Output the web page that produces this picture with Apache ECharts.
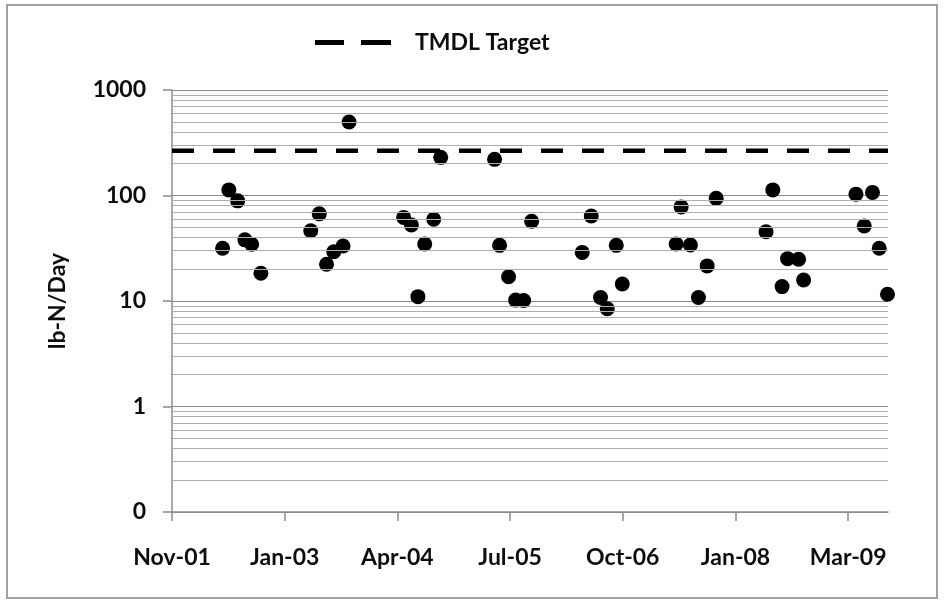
<!DOCTYPE html>
<html>
<head>
<meta charset="utf-8">
<script src="https://cdn.jsdelivr.net/npm/echarts@6/dist/echarts.min.js"></script>
<style>
html,body{margin:0;padding:0;background:#fff;}
#chart{width:945px;height:601px;}
</style>
</head>
<body>
<div id="chart"></div>
<script>
// ---- data ----
const axisStartDate = '2001-11-05';
const axisEndDate = '2009-09-03';
const tickIntervalDays = 450;
const xTickLabels = ['Nov-01', 'Jan-03', 'Apr-04', 'Jul-05', 'Oct-06', 'Jan-08', 'Mar-09'];
const sampleDates = [
  '2002-05-26', '2002-06-20', '2002-07-25', '2002-08-23', '2002-09-19', '2002-10-26',
  '2003-05-13', '2003-06-16', '2003-07-15', '2003-08-13', '2003-09-19', '2003-10-13',
  '2004-05-18', '2004-06-18', '2004-07-14', '2004-08-10', '2004-09-15', '2004-10-13',
  '2005-05-16', '2005-06-05', '2005-07-11', '2005-08-08', '2005-09-09', '2005-10-11',
  '2006-05-01', '2006-06-06', '2006-07-13', '2006-08-09', '2006-09-14', '2006-10-08',
  '2007-05-11', '2007-05-31', '2007-07-07', '2007-08-08', '2007-09-12', '2007-10-18',
  '2008-05-04', '2008-05-31', '2008-07-07', '2008-07-29', '2008-09-11', '2008-10-01',
  '2009-04-28', '2009-05-31', '2009-07-03', '2009-07-30', '2009-09-01'
];
const loads = [
  31.6, 113, 89, 38, 34.5, 18.3,
  46.4, 67, 22.3, 29.3, 33.2, 497,
  62, 52.5, 11.0, 34.7, 59.5, 230,
  220, 33.7, 17.0, 10.2, 10.1, 57,
  28.9, 64, 10.8, 8.45, 33.7, 14.5,
  34.7, 78, 34, 10.8, 21.5, 94,
  45.4, 113, 13.7, 25.2, 24.9, 15.8,
  103, 51.4, 107, 31.6, 11.6
];
const tmdlTarget = 265;
const yMin = 0.1;
const yMax = 1000;
const yTickLabels = ['0', '1', '10', '100', '1000'];
const yMajorTicks = [0.1, 1, 10, 100, 1000];
const yMinorGrid = [
  0.2, 0.3, 0.4, 0.5, 0.6, 0.7, 0.8, 0.9,
  2, 3, 4, 5, 6, 7, 8, 9,
  20, 30, 40, 50, 60, 70, 80, 90,
  200, 300, 400, 500, 600, 700, 800, 900
];

// ---- helpers ----
const DAY = 86400000;
function dayOffset(s) { return (Date.parse(s) - Date.parse(axisStartDate)) / DAY; }
const xMax = dayOffset(axisEndDate);
const xTicks = xTickLabels.map((_, i) => i * tickIntervalDays);
const points = sampleDates.map((d, i) => [dayOffset(d), loads[i]]);

const FONT = 'Lato';
const TXT = '#0d0d0d';
const FS = 23;

const chart = echarts.init(document.getElementById('chart'), null, { renderer: 'canvas' });
chart.setOption({
  animation: false,
  backgroundColor: '#fff',
  graphic: [{
    type: 'rect',
    shape: { x: 7, y: 5, width: 930, height: 593 },
    style: { fill: 'none', stroke: '#a0a0a0', lineWidth: 2 },
    silent: true
  }],
  grid: { left: 172, right: 57, top: 90, bottom: 89 },
  legend: {
    left: 315, top: 31, padding: 0,
    itemWidth: 76, itemHeight: 5,
    data: [{ name: 'TMDL Target', icon: 'path://M0,0H29V5H0Z M46,0H76V5H46Z' }],
    textStyle: { fontFamily: FONT, fontWeight: 'bold', fontSize: FS, color: TXT, padding: [0, 0, 0, 19] },
    selectedMode: false
  },
  xAxis: {
    type: 'value',
    min: 0, max: xMax, interval: tickIntervalDays,
    axisLine: { show: true, lineStyle: { color: '#8c8c8c', width: 1.5 } },
    axisTick: { show: true, length: 9, inside: false, customValues: xTicks, lineStyle: { color: '#8c8c8c', width: 1.5 } },
    axisLabel: {
      customValues: xTicks,
      margin: 34,
      fontFamily: FONT, fontWeight: 'bold', fontSize: FS, color: TXT,
      formatter: v => xTickLabels[Math.round(v / tickIntervalDays)] || ''
    },
    splitLine: { show: false }
  },
  yAxis: {
    type: 'log', logBase: 10,
    min: yMin, max: yMax,
    name: 'lb-N/Day', nameLocation: 'middle', nameGap: 103, nameRotate: 90,
    nameTextStyle: { fontFamily: FONT, fontWeight: 'bold', fontSize: FS, color: TXT },
    axisLine: { show: true, lineStyle: { color: '#8c8c8c', width: 1.5 } },
    axisTick: { show: true, length: 9, inside: false, lineStyle: { color: '#8c8c8c', width: 1.5 } },
    axisLabel: {
      margin: 26,
      fontFamily: FONT, fontWeight: 'bold', fontSize: FS, color: TXT,
      formatter: v => {
        let best = 0;
        yMajorTicks.forEach((t, i) => { if (Math.abs(Math.log10(v) - Math.log10(t)) < Math.abs(Math.log10(v) - Math.log10(yMajorTicks[best]))) best = i; });
        return yTickLabels[best];
      }
    },
    splitLine: { show: true, lineStyle: { color: '#8a8a8a', width: 1 } },
    minorTick: { show: false },
    minorSplitLine: { show: false }
  },
  series: [
    {
      name: 'minor grid',
      type: 'line',
      data: [],
      silent: true,
      z: 1,
      markLine: {
        silent: true,
        symbol: ['none', 'none'],
        label: { show: false },
        lineStyle: { color: '#aeaeae', width: 1, type: 'solid' },
        emphasis: { disabled: true },
        animation: false,
        data: yMinorGrid.map(v => ({ yAxis: v }))
      }
    },
    {
      name: 'TMDL Target',
      type: 'line',
      data: [[0, tmdlTarget], [xMax, tmdlTarget]],
      symbol: 'none',
      color: '#000',
      itemStyle: { color: '#000' },
      lineStyle: { color: '#000', width: 4.5, type: [22, 19] },
      z: 3,
      silent: true
    },
    {
      name: 'Load',
      type: 'scatter',
      data: points,
      symbol: 'circle',
      symbolSize: 15,
      itemStyle: { color: '#000', opacity: 1 },
      z: 4,
      clip: false
    }
  ]
});
</script>
</body>
</html>
